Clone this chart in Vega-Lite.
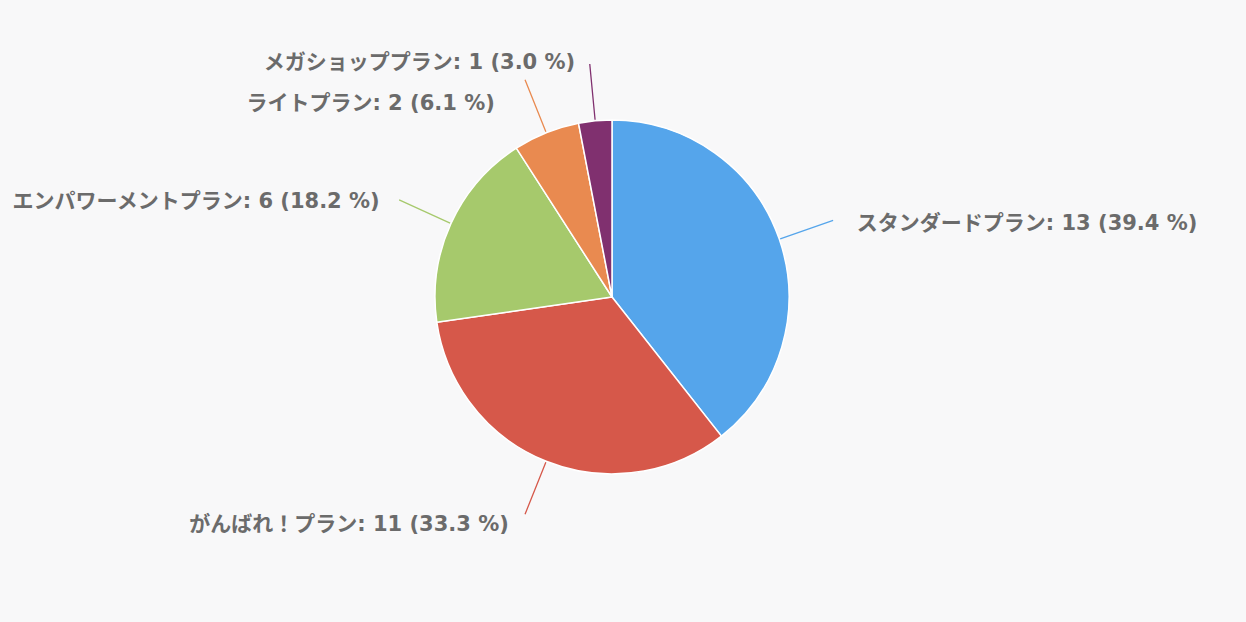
{
  "$schema": "https://vega.github.io/schema/vega-lite/v6.json",
  "background": "#f8f8f9",
  "width": 1246,
  "height": 622,
  "autosize": {"type": "fit", "contains": "padding"},
  "padding": {"left": 0, "top": 0, "right": 22, "bottom": 28},
  "data": {
    "values": [
      {"plan": "スタンダードプラン", "count": 13, "rank": 1},
      {"plan": "がんばれ！プラン", "count": 11, "rank": 2},
      {"plan": "エンパワーメントプラン", "count": 6, "rank": 3},
      {"plan": "ライトプラン", "count": 2, "rank": 4},
      {"plan": "メガショッププラン", "count": 1, "rank": 5}
    ]
  },
  "transform": [
    {"joinaggregate": [{"op": "sum", "field": "count", "as": "total"}]},
    {"calculate": "datum.plan + ': ' + datum.count + ' (' + format(datum.count / datum.total * 100, '.1f') + ' %)'", "as": "label"}
  ],
  "encoding": {
    "theta": {"field": "count", "type": "quantitative", "stack": true},
    "order": {"field": "rank", "type": "ordinal"},
    "color": {
      "field": "plan",
      "type": "nominal",
      "legend": null,
      "scale": {
        "domain": ["スタンダードプラン", "がんばれ！プラン", "エンパワーメントプラン", "ライトプラン", "メガショッププラン"],
        "range": ["#55a5eb", "#d6584a", "#a6c96c", "#e98a50", "#80306f"]
      }
    }
  },
  "layer": [
    {
      "mark": {"type": "arc", "outerRadius": 177, "stroke": "#ffffff", "strokeWidth": 1.5}
    },
    {
      "mark": {"type": "arc", "filled": false, "padAngle": 3, "innerRadius": 178, "outerRadius": 234, "strokeWidth": 1.3}
    },
    {
      "mark": {"type": "text", "align": "left", "baseline": "middle", "dx": 18, "dy": 5, "fontSize": 21, "fontWeight": "bold", "font": "DejaVu Sans, Noto Sans CJK JP", "fill": "#6b6b6b"},
      "encoding": {
        "radius": {"value": 240},
        "color": {"value": "#6b6b6b"},
        "text": {"condition": {"test": "datum.plan === 'スタンダードプラン'", "field": "label"}, "value": ""}
      }
    },
    {
      "mark": {"type": "text", "align": "right", "baseline": "middle", "dx": -14, "dy": 5, "fontSize": 21, "fontWeight": "bold", "font": "DejaVu Sans, Noto Sans CJK JP", "fill": "#6b6b6b"},
      "encoding": {
        "radius": {"value": 240},
        "color": {"value": "#6b6b6b"},
        "text": {"condition": {"test": "indexof(['がんばれ！プラン', 'エンパワーメントプラン', 'メガショッププラン'], datum.plan) >= 0", "field": "label"}, "value": ""}
      }
    },
    {
      "mark": {"type": "text", "align": "right", "baseline": "middle", "dx": -28, "dy": 30, "fontSize": 21, "fontWeight": "bold", "font": "DejaVu Sans, Noto Sans CJK JP", "fill": "#6b6b6b"},
      "encoding": {
        "radius": {"value": 240},
        "color": {"value": "#6b6b6b"},
        "text": {"condition": {"test": "datum.plan === 'ライトプラン'", "field": "label"}, "value": ""}
      }
    }
  ],
  "config": {"view": {"stroke": null}}
}
